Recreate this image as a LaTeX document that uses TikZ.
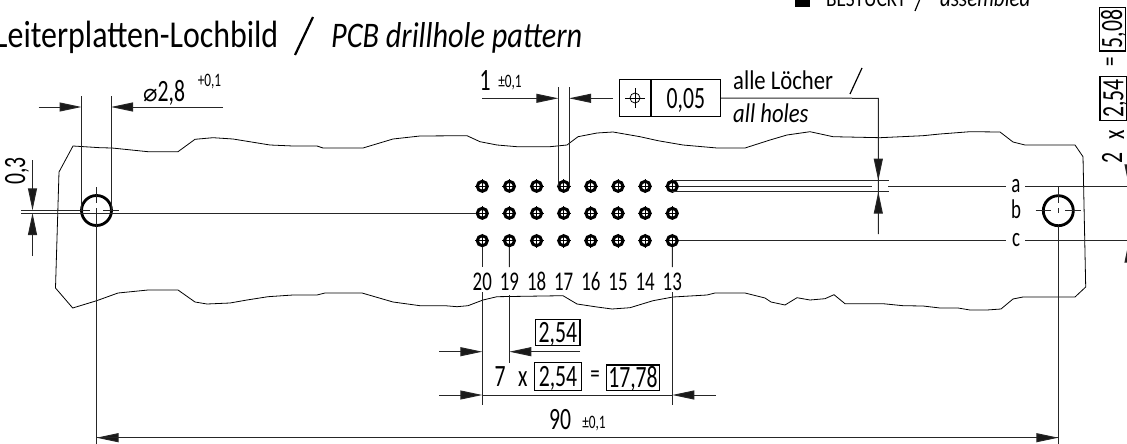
\documentclass[tikz,border=0pt]{standalone}
\usepackage{fontspec}
\usepackage{tikz}
\usetikzlibrary{arrows.meta}
\setmainfont[FakeStretch=0.84,Numbers=Lining]{Carlito}
\newfontfamily\dimfont[FakeStretch=0.7,Numbers=Lining]{Carlito}
\newfontfamily\symfont{DejaVu Sans}
\begin{document}
\begin{tikzpicture}
[x=1pt,y=-1pt]
\tikzset{lin/.style={line width=1pt,draw=black!85},
	dimr/.style={lin,-{Triangle[length=22pt,width=9pt,fill=black!90]}},
	lbl/.style={inner sep=0,anchor=base,font=\dimfont\fontsize{27}{27}\selectfont},
	big/.style={inner sep=0,anchor=base,font=\dimfont\fontsize{31}{31}\selectfont},
	rot/.style={inner sep=0,rotate=90,font=\dimfont\fontsize{31}{31}\selectfont},
	tol/.style={inner sep=0,anchor=base,font=\dimfont\fontsize{19}{19}\selectfont},
	ttl/.style={inner sep=0,anchor=base west,font=\fontsize{38}{38}\selectfont},
	small/.style={inner sep=0,anchor=base west,font=\fontsize{27}{27}\selectfont},
	framebox/.style={draw,line width=1.1pt,inner sep=0,text height=20pt,text depth=0pt,font=\dimfont\fontsize{31}{31}\selectfont},
	bighole/.style={circle,draw,line width=2.8pt,minimum size=30pt,inner sep=0},
	smallhole/.style={circle,draw,line width=3pt,minimum size=10pt,inner sep=0}}
\useasboundingbox (0,0) rectangle (1127,444);
\clip (0,0) rectangle (1127,444);

% titles
\node [ttl] (title1) at (-6,48) {Leiterplatten-Lochbild};
\coordinate (sl1) at (295,55);
\coordinate (sl2) at (313,17);
\draw [line width=2.2pt] (sl1) -- (sl2);
\node [ttl,font=\fontsize{36}{36}\selectfont] (title2) at (331,48) {\itshape PCB drillhole pattern};
\node [inner sep=0,fill,minimum width=15pt,minimum height=15pt] (bestsq) at (802.5,0) {};
\node [small,font=\fontsize{23}{23}\selectfont] (best1) at (826,7) {BESTÜCKT};
\coordinate (sl3) at (915,11);
\coordinate (sl4) at (922,-6);
\draw [line width=1.2pt] (sl3) -- (sl4);
\node [small,font=\fontsize{25}{25}\selectfont] (best2) at (940,7) {\itshape assembled};

% board outline
\draw [line width=.8pt] (73,146) -- (100,147.7) -- (112,148) -- (148,151.7) -- (178,151.7) -- (195,139.3)
	-- (213,137.7) -- (233,139) -- (270,145) -- (293,146) -- (317,146) -- (323,148) -- (363,148) -- (393,139)
	-- (420,136) -- (467,135.7) -- (480,141.7) -- (497,145) -- (517,146.7) -- (550,146.7) -- (567,145)
	-- (578,136.7) -- (597,133) -- (613,132) -- (640,136.7) -- (658,140.7) -- (683,145) -- (717,148)
	-- (745,148) -- (770,140) -- (787,135) -- (810,131.7) -- (833,136.7) -- (880,137.7) -- (923,135.7)
	-- (940,134) -- (970,131.7) -- (1000,132) -- (1013,142) -- (1025,145) -- (1075,145) -- (1083,156.7)
	-- (1085.7,287) -- (1075,297) -- (1023,297) -- (1013,299) -- (1001,309) -- (987,310) -- (970,310)
	-- (958,308) -- (940,308) -- (923,306) -- (903,305.7) -- (883,303.7) -- (845,303.7) -- (834,294.7)
	-- (825,298.7) -- (810,300) -- (797,297.7) -- (785,305) -- (771,302) -- (765,298) -- (745,293)
	-- (715,293) -- (707,295) -- (673,297) -- (653,300.7) -- (630,307.7) -- (612,309) -- (597,307)
	-- (577,304) -- (563,295.7) -- (497,296.7) -- (483,300) -- (468,305.7) -- (457,306.7) -- (445,305.7)
	-- (420,305.7) -- (393,302) -- (362,293) -- (325,293) -- (317,295) -- (293,295) -- (268,296.7)
	-- (247,300) -- (230,303) -- (207,304) -- (195,302) -- (178,290) -- (148,290) -- (118,293)
	-- (96.7,300.7) -- (72.7,308) -- (55.5,288) -- (59,172) -- cycle;

% holes
\foreach \row/\y in {a/186.3,b/213.3,c/240.7}
	\foreach \lab [count=\i from 0] in {20,19,18,17,16,15,14,13} {
		\node [smallhole,fill=white] (hole\lab\row) at (482.3+27.14*\i,\y) {};
		\draw [line width=.9pt] (482.3+27.14*\i-7,\y) -- (482.3+27.14*\i+7,\y);
		\draw [line width=.9pt] (482.3+27.14*\i,\y-7) -- (482.3+27.14*\i,\y+7);
	}
\foreach \lab [count=\i from 0] in {20,19,18,17,16,15,14,13}
	\node [lbl] (num\lab) at (482.3+27.14*\i,290) {\lab};
\node [bighole] (holeL) at (96.5,210.5) {};
\node [bighole] (holeR) at (1058.3,210.7) {};

% free ends
\coordinate (a0) at (871.7,186.3);
\coordinate (a1) at (888,186.3);
\coordinate (aL) at (1006,186.3);
\coordinate (aR) at (1025,186.3);
\coordinate (cL) at (1006,240.7);
\coordinate (cR) at (1025,240.7);
\coordinate (bL) at (21,213.3);
\coordinate (zz) at (1127,186.3);
\coordinate (zc) at (1127,240.7);
\coordinate (e20) at (482.3,267);
\coordinate (e19) at (509.3,267);
\coordinate (e13) at (672.3,267);

% leaders from the holes
\foreach \from/\to in {bL/hole20b.west,hole13a.east/a0,a1/aL,aR/zz,hole13c.east/cL,cR/zc,hole20c.south/e20,hole19c.south/e19,hole13c.south/e13}
	\draw [lin] (\from) -- (\to);

\node [lbl] (la) at (1016,192) {a};
\node [lbl] (lb) at (1016,218) {b};
\node [lbl] (lc) at (1016,246) {c};

% hole centre lines
\draw [lin] (21,210.3) -- (90,210.3);
\draw [lin] (103,210.3) -- (119,210.3);
\draw [lin] (96.5,187) -- (96.5,203);
\draw [lin] (96.5,208) -- (96.5,444);
\draw [lin] (1035.7,210.7) -- (1051,210.7);
\draw [lin] (1065,210.7) -- (1081,210.7);
\draw [lin] (1058.3,187) -- (1058.3,203);
\draw [lin] (1058.3,208) -- (1058.3,213);
\draw [lin] (1058.3,225.7) -- (1058.3,444);

% diameter
\draw [lin] (81.5,96) -- (81.5,210);
\draw [lin] (111,96) -- (111,210);
\draw [dimr] (38.5,107) -- (81.5,107);
\draw [dimr] (223,107) -- (111,107);
\node [big,anchor=base west] (dia) at (143,101) {{\symfont\fontsize{24}{24}\selectfont ⌀}2,8};
\node [tol] (diatol) at (209.5,86) {+0,1};

% 0,3
\draw [dimr] (32.5,160) -- (32.5,210.3);
\draw [dimr] (32.5,256) -- (32.5,213);
\node [rot] (d03) at (17,171) {0,3};

% position tolerance
\node [draw,line width=1pt,minimum width=32pt,minimum height=37.4pt,inner sep=0] (fsym) at (635,98) {};
\node [framebox,minimum width=69.7pt,minimum height=37.4pt] (fval) at (685.8,98) {0,05};
\draw [line width=.8pt] (fsym.center) circle (5);
\draw [line width=.8pt] (625,98) -- (645,98);
\draw [line width=.8pt] (635,88) -- (635,108);
\draw [lin] (558.3,87) -- (558.3,186);
\draw [lin] (569,87) -- (569,186);
\draw [dimr] (482,98.3) -- (558.3,98.3);
\coordinate (t1) at (613,98.3);
\coordinate (t2) at (569,98.3);
\draw [dimr] (t1) -- (t2);
\node [big] (d1) at (485,90) {1};
\node [tol] (d1tol) at (510,88) {±0,1};
\node [small] (alle) at (733,89) {alle Löcher};
\coordinate (sl5) at (850,94);
\coordinate (sl6) at (862,68);
\draw [line width=1.2pt] (sl5) -- (sl6);
\node [small] (allh) at (733,122) {\itshape all holes};
\coordinate (lead1) at (878.3,98.3);
\coordinate (lead2) at (878.3,234);
\draw [lin] (fval.east) -- (lead1) -- (lead2);
\draw [dimr] (878.3,159) -- (878.3,180.7);
\draw [dimr] (878.3,213.3) -- (878.3,191.7);

% pitch lines
\draw [lin] (672,180.7) -- (889,180.7);
\draw [lin] (672,191.7) -- (889,191.7);

% dimensions below
\foreach \x/\a/\b in {482.3/292/405,509.3/295/362.7,672.3/292/405}
	\draw [lin] (\x,\a) -- (\x,\b);
\draw [dimr] (439,351.7) -- (482.3,351.7);
\draw [dimr] (580,351.7) -- (509.3,351.7);
\node [framebox,minimum width=44.3pt,minimum height=25.7pt] (b254a) at (557.8,332.2) {2,54};
\draw [dimr] (439,395) -- (482.3,395);
\draw [dimr] (715.7,395) -- (672.3,395);
\draw [lin] (482.3,395) -- (672.3,395);
\node [big] (seven) at (500,386.7) {7};
\node [big] (times) at (522.7,386.7) {x};
\node [framebox,minimum width=46.6pt,minimum height=27.3pt] (b254b) at (558,376.4) {2,54};
\node [inner sep=0,font=\dimfont\fontsize{27}{27}\selectfont] (eq) at (595,377) {=};
\node [framebox,minimum width=52.6pt,minimum height=25.7pt] (b1778) at (633,377.8) {17,78};
\node [big] (d90) at (560,429) {90};
\node [tol] (d90tol) at (594,428) {±0,1};
\draw [dimr] (1058.3,437.7) -- (96.5,437.7);
\draw [dimr] (96.5,437.7) -- (1058.3,437.7);

% right side
\node [framebox,rotate=90,minimum width=43.7pt,minimum height=25.7pt] (b508) at (1112.2,29.2) {5,08};
\node [rot,font=\dimfont\fontsize{27}{27}\selectfont] (eq2) at (1112.5,62) {=};
\node [framebox,rotate=90,minimum width=43.3pt,minimum height=26.7pt] (b254c) at (1113.3,98.4) {2,54};
\node [rot] (times2) at (1116.7,135) {x};
\node [rot] (two) at (1112,158) {2};
\draw [dimr] (1129,164) -- (1129,186.3);
\draw [dimr] (1129,262.7) -- (1129,240.7);
\end{tikzpicture}
\end{document}
